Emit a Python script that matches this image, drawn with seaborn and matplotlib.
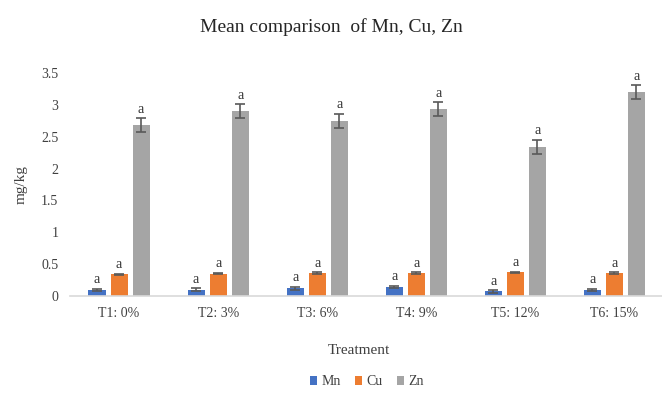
import matplotlib
matplotlib.use("Agg")
import matplotlib.pyplot as plt
import seaborn as sns
import pandas as pd
import numpy as np

treatments = ["T1: 0%", "T2: 3%", "T3: 6%", "T4: 9%", "T5: 12%", "T6: 15%"]
elements = ["Mn", "Cu", "Zn"]
mn_mean = [0.09, 0.10, 0.12, 0.14, 0.07, 0.09]
cu_mean = [0.34, 0.35, 0.36, 0.36, 0.37, 0.36]
zn_mean = [2.68, 2.90, 2.75, 2.93, 2.34, 3.20]
mn_err = [0.02, 0.02, 0.02, 0.02, 0.02, 0.02]
cu_err = [0.01, 0.01, 0.01, 0.01, 0.01, 0.01]
zn_err = [0.11, 0.11, 0.11, 0.11, 0.11, 0.11]
letters = ["a", "a", "a"]
colors = ["#4472C4", "#ED7D31", "#A5A5A5"]

errs = {"Mn": mn_err, "Cu": cu_err, "Zn": zn_err}

df = pd.DataFrame({
    "Treatment": treatments * 3,
    "Element": [e for e in elements for _ in treatments],
    "Value": mn_mean + cu_mean + zn_mean,
})

sns.set_theme(style="white")
plt.rcParams["font.family"] = ["Liberation Serif", "DejaVu Serif"]

fig = plt.figure(figsize=(6.62, 4.01), dpi=100)
ax = fig.add_axes([0.105, 0.262, 0.898, 0.556])

sns.barplot(data=df, x="Treatment", y="Value", hue="Element",
            order=treatments, hue_order=elements, palette=colors,
            saturation=1, linewidth=0, errorbar=None,
            width=0.667, gap=0.225, ax=ax, legend=True)

for container, el, letter in zip(ax.containers, elements, letters):
    xs = [p.get_x() + p.get_width() / 2 for p in container]
    hs = [p.get_height() for p in container]
    ax.errorbar(xs, hs, yerr=errs[el], fmt="none", ecolor="#595959",
                elinewidth=1.2, capsize=3.5, capthick=1.2, zorder=3)
    for x, h, e in zip(xs, hs, errs[el]):
        ax.text(x, h + e + 0.04, letter, ha="center", va="bottom",
                fontsize=10, color="#333333")

ax.set_ylim(0, 3.5)
ax.set_yticks(np.arange(0, 3.51, 0.5))
ax.set_yticklabels(["0", "0.5", "1", "1.5", "2", "2.5", "3", "3.5"])
ax.set_xlim(-0.5, len(treatments) - 0.5)
ax.tick_params(axis="both", length=0, labelsize=10, colors="#404040", pad=8)
for s in ["top", "right", "left"]:
    ax.spines[s].set_visible(False)
ax.spines["bottom"].set_color("#D9D9D9")
ax.spines["bottom"].set_linewidth(1.2)

ax.set_xlabel("Treatment", fontsize=11, color="#404040", labelpad=17)
ax.xaxis.set_label_coords(0.487, -0.215)
ax.set_ylabel("mg/kg", fontsize=11, color="#404040", labelpad=10)
fig.suptitle("Mean comparison  of Mn, Cu, Zn", y=0.955, fontsize=14, color="#262626")

ax.legend(loc="upper center", bbox_to_anchor=(0.5, -0.30), ncol=3, frameon=False,
          fontsize=10, handlelength=0.55, handleheight=0.55, columnspacing=1.0,
          handletextpad=0.3, labelcolor="#404040")

fig.savefig("out.png", dpi=100)
